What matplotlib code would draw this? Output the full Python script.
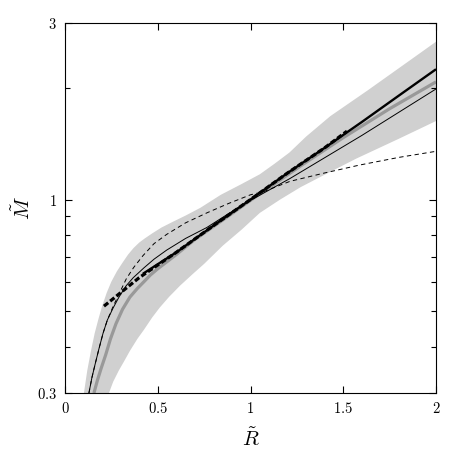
import numpy as np
import matplotlib
matplotlib.use("Agg")
import matplotlib.pyplot as plt
from matplotlib.ticker import FixedLocator, NullFormatter, FixedFormatter

plt.rcParams['mathtext.fontset'] = 'cm'
plt.rcParams['font.family'] = 'serif'
plt.rcParams['font.serif'] = ['DejaVu Serif']

# shaded band (upper and lower edge)
band_up_x = [0.102, 0.12, 0.14, 0.16, 0.18, 0.20, 0.225, 0.25, 0.28, 0.31, 0.34, 0.37,
             0.40, 0.43, 0.47, 0.52, 0.58, 0.65, 0.73, 0.84, 0.95, 1.05, 1.13, 1.21,
             1.30, 1.43, 1.63, 1.85, 2.0]
band_up_y = [0.30, 0.345, 0.39, 0.435, 0.475, 0.515, 0.56, 0.60, 0.64, 0.675, 0.71, 0.74,
             0.765, 0.785, 0.81, 0.84, 0.87, 0.905, 0.95, 1.03, 1.10, 1.17, 1.25, 1.34,
             1.48, 1.68, 1.97, 2.36, 2.67]
band_lo_x = [0.237, 0.26, 0.29, 0.318, 0.35, 0.39, 0.426, 0.47, 0.51, 0.56, 0.62, 0.69,
             0.75, 0.85, 0.953, 1.05, 1.16, 1.27, 1.375, 1.57, 1.80, 2.0]
band_lo_y = [0.30, 0.322, 0.345, 0.365, 0.39, 0.42, 0.445, 0.48, 0.51, 0.545, 0.585, 0.63,
             0.67, 0.75, 0.83, 0.92, 1.00, 1.08, 1.15, 1.29, 1.46, 1.63]

# gray thick curve
gray_x = [0.156, 0.175, 0.195, 0.219, 0.245, 0.275, 0.31, 0.35, 0.39, 0.426, 0.46, 0.5,
          0.6, 0.7, 0.85, 1.0, 1.267, 1.5, 1.75, 2.0]
gray_y = [0.30, 0.325, 0.35, 0.38, 0.42, 0.462, 0.505, 0.545, 0.575, 0.60, 0.625, 0.65,
          0.71, 0.78, 0.88, 0.995, 1.23, 1.47, 1.76, 2.08]

# thick black solid line
thick_x = [0.42, 0.6, 0.8, 1.0, 1.2, 1.4, 1.6, 1.8, 2.0]
thick_y = [0.63, 0.72, 0.85, 1.0, 1.18, 1.38, 1.62, 1.91, 2.25]

# thick dashed line
tdash_x = [0.21, 0.4, 0.6, 0.8, 1.0, 1.2, 1.4, 1.52]
tdash_y = [0.515, 0.615, 0.72, 0.85, 1.0, 1.18, 1.38, 1.53]

# thin solid line
thin_x = [0.129, 0.145, 0.163, 0.183, 0.205, 0.228, 0.26, 0.291, 0.33, 0.368, 0.426,
          0.48, 0.548, 0.65, 0.764, 0.88, 1.0, 1.213, 1.6, 2.0]
thin_y = [0.30, 0.33, 0.36, 0.395, 0.435, 0.472, 0.51, 0.545, 0.585, 0.615, 0.654,
          0.69, 0.73, 0.785, 0.84, 0.915, 0.995, 1.14, 1.49, 1.99]

# thin dashed line
dash_x = [0.129, 0.145, 0.163, 0.183, 0.205, 0.228, 0.26, 0.291, 0.33, 0.37, 0.42,
          0.48, 0.548, 0.65, 0.764, 0.88, 1.0, 1.07, 1.213, 1.4, 1.59, 1.8, 2.0]
dash_y = [0.30, 0.33, 0.36, 0.395, 0.435, 0.472, 0.515, 0.555, 0.61, 0.655, 0.705,
          0.76, 0.805, 0.865, 0.92, 0.975, 1.03, 1.05, 1.12, 1.18, 1.24, 1.30, 1.35]

x_ticks = [0, 0.5, 1, 1.5, 2]
x_labels = ['$0$', '$0.5$', '$1$', '$1.5$', '$2$']
y_ticks = [0.3, 1, 3]
y_labels = ['$0.3$', '$1$', '$3$']
y_minor = [0.4, 0.5, 0.6, 0.7, 0.8, 0.9, 2]

fig = plt.figure(figsize=(4.63, 4.63), dpi=100)
ax = fig.add_axes([0.1404, 0.1512, 0.8013, 0.7991])

ax.fill(np.r_[band_up_x, band_lo_x[::-1]], np.r_[band_up_y, band_lo_y[::-1]],
        color='#d0d0d0', lw=0, zorder=1)
ax.plot(gray_x, gray_y, color='#999999', lw=2.3, zorder=2, solid_capstyle='butt')
ax.plot(thin_x, thin_y, color='black', lw=0.7, zorder=3)
ax.plot(dash_x, dash_y, color='black', lw=0.7, ls=(0, (4.5, 3.5)), zorder=3)
ax.plot(thick_x, thick_y, color='black', lw=1.7, zorder=4, solid_capstyle='butt')
ax.plot(tdash_x, tdash_y, color='black', lw=2.3, ls=(0, (1.7, 0.8)), zorder=5)

ax.set_yscale('log')
ax.set_xlim(0, 2)
ax.set_ylim(0.3, 3)

ax.xaxis.set_major_locator(FixedLocator(x_ticks))
ax.xaxis.set_major_formatter(FixedFormatter(x_labels))
ax.yaxis.set_major_locator(FixedLocator(y_ticks))
ax.yaxis.set_major_formatter(FixedFormatter(y_labels))
ax.yaxis.set_minor_locator(FixedLocator(y_minor))
ax.yaxis.set_minor_formatter(NullFormatter())
ax.xaxis.set_minor_locator(FixedLocator([]))

ax.tick_params(which='both', direction='in', top=True, right=True, width=0.8,
               labelsize=10.5, pad=6)
ax.tick_params(which='major', length=5)
ax.tick_params(which='minor', length=3.5)
for sp in ax.spines.values():
    sp.set_linewidth(0.8)

ax.set_xlabel(r'$\tilde{R}$', fontsize=15, labelpad=8)
ax.set_ylabel(r'$\tilde{M}$', fontsize=15, labelpad=2)

fig.savefig('out.png', dpi=100)
